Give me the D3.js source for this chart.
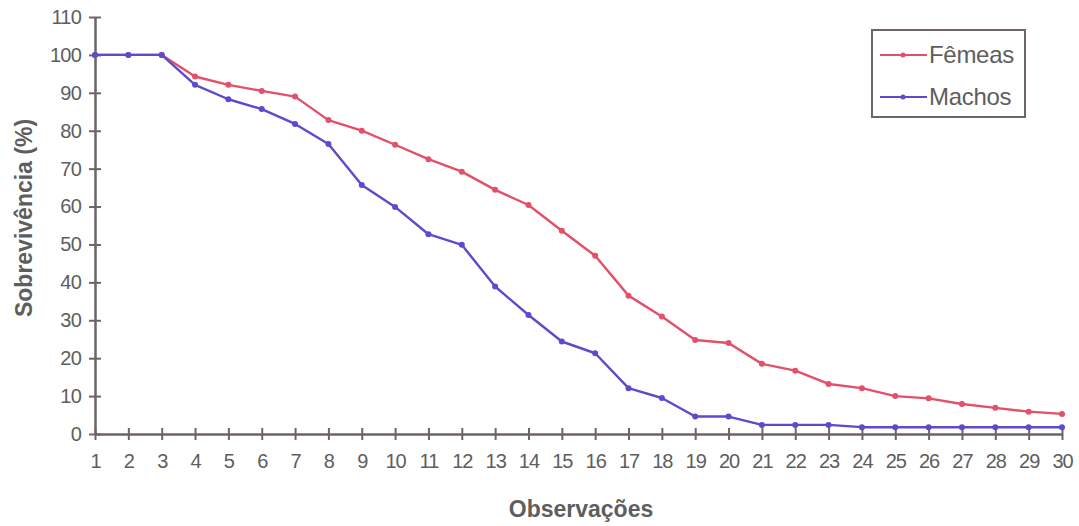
<!DOCTYPE html>
<html><head><meta charset="utf-8">
<script src="https://cdn.jsdelivr.net/npm/d3@7"></script>
<style>body{margin:0;background:#fff}svg{display:block}</style>
</head><body>
<svg id="c" width="1079" height="526"></svg>
<script>
const observacoes = d3.range(1, 31);
const femeas = [100,100,100,94.3,92.1,90.5,89,82.8,80,76.3,72.5,69.2,64.4,60.4,53.6,47,36.5,31,24.8,24,18.5,16.7,13.2,12.1,10,9.4,7.9,6.9,5.9,5.3];
const machos = [100,100,100,92.1,88.3,85.7,81.8,76.5,65.7,59.9,52.7,49.9,38.9,31.4,24.4,21.3,12.1,9.5,4.6,4.6,2.4,2.4,2.4,1.8,1.8,1.8,1.8,1.8,1.8,1.8];
const yTicks = d3.range(0, 111, 10);
const seriesNames = ["Fêmeas", "Machos"];
const colors = ["#e2506a", "#5a4ccc"];

const svg = d3.select("#c");
const x = d3.scaleLinear().domain([1, 30]).range([95, 1062]);
const y = d3.scaleLinear().domain([0, 110]).range([434, 17]);
const axisColor = "#6e6468";
const textColor = "#5e5e5e";
const font = "Liberation Sans, Arial, sans-serif";

// y axis
const ya = svg.append("g").attr("transform", `translate(${x(1)},0)`)
  .call(d3.axisLeft(y).tickValues(yTicks).tickSize(0).tickPadding(14));
ya.select(".domain").attr("stroke", axisColor).attr("stroke-width", 2.5);
ya.selectAll(".tick text").attr("fill", textColor).attr("font-family", font).attr("font-size", 20).attr("letter-spacing", -0.8);
ya.selectAll(".tick").append("line").attr("x1", -6).attr("x2", 6).attr("stroke", axisColor).attr("stroke-width", 2);

// x axis
const xa = svg.append("g").attr("transform", `translate(0,${y(0)})`)
  .call(d3.axisBottom(x).tickValues(observacoes).tickFormat(d3.format("d")).tickSize(0).tickPadding(20));
xa.select(".domain").attr("stroke", axisColor).attr("stroke-width", 2.5);
xa.selectAll(".tick text").attr("fill", textColor).attr("font-family", font).attr("font-size", 20).attr("letter-spacing", -1);
xa.selectAll(".tick").append("line").attr("y1", -6).attr("y2", 6).attr("stroke", axisColor).attr("stroke-width", 2);

// titles
svg.append("text").attr("x", 581).attr("y", 517).attr("text-anchor", "middle")
  .attr("font-family", font).attr("font-weight", "bold").attr("font-size", 23).attr("fill", textColor).text("Observações");
svg.append("text").attr("transform", "translate(32,218) rotate(-90)").attr("text-anchor", "middle")
  .attr("font-family", font).attr("font-weight", "bold").attr("font-size", 23).attr("fill", textColor).text("Sobrevivência (%)");

// lines
const data = [femeas, machos];
const line = d3.line().x((d, i) => x(observacoes[i])).y(d => y(d));
data.forEach((vals, k) => {
  svg.append("path").datum(vals).attr("d", line).attr("fill", "none")
    .attr("stroke", colors[k]).attr("stroke-width", 2.4).attr("stroke-linejoin", "round");
  svg.append("g").selectAll("circle").data(vals).join("circle")
    .attr("cx", (d, i) => x(observacoes[i])).attr("cy", d => y(d)).attr("r", 3)
    .attr("fill", colors[k]);
});

// legend
const lg = svg.append("g");
lg.append("rect").attr("x", 872).attr("y", 30).attr("width", 153).attr("height", 87)
  .attr("fill", "#fff").attr("stroke", axisColor).attr("stroke-width", 2);
seriesNames.forEach((n, k) => {
  const ly = 55 + k * 42;
  lg.append("line").attr("x1", 880).attr("x2", 927).attr("y1", ly).attr("y2", ly).attr("stroke", colors[k]).attr("stroke-width", 2);
  lg.append("circle").attr("cx", 903).attr("cy", ly).attr("r", 2.5).attr("fill", colors[k]);
  lg.append("text").attr("x", 929).attr("y", ly + 8).attr("font-family", font).attr("font-size", 24)
    .attr("fill", textColor).attr("letter-spacing", -0.3).text(n);
});
</script>
</body></html>
